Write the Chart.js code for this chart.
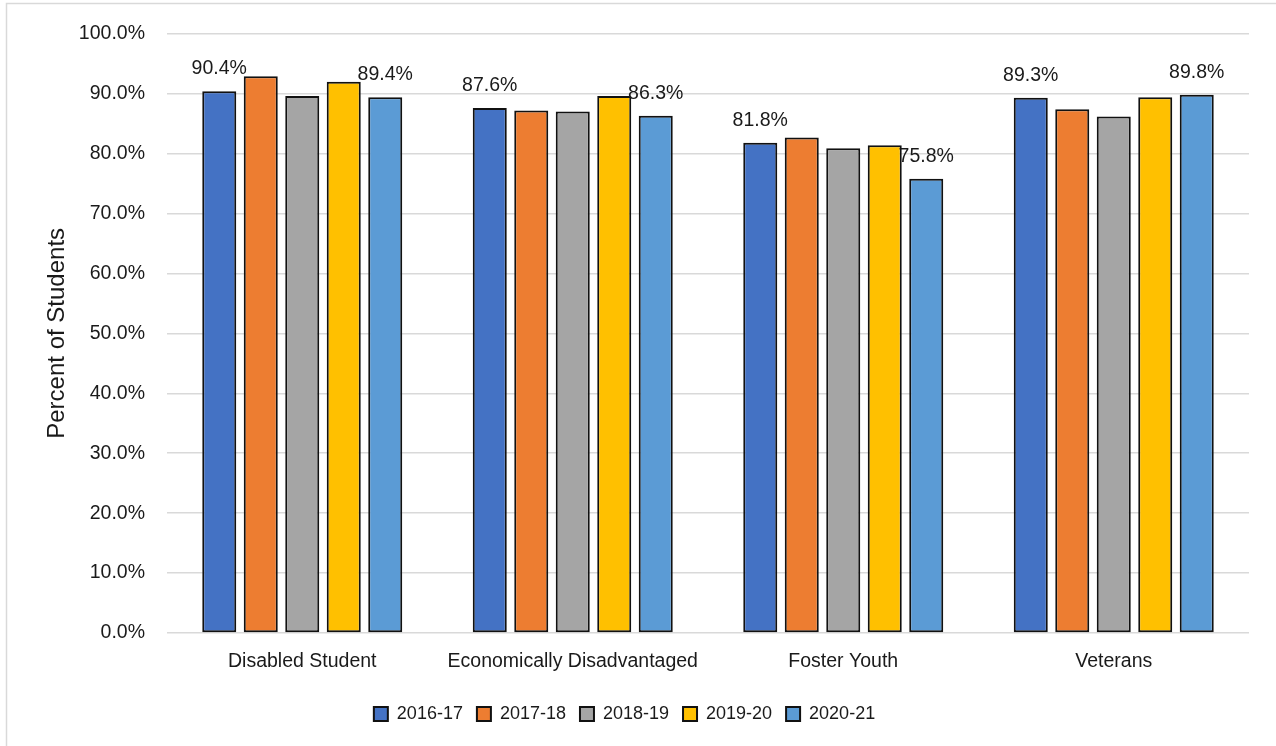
<!DOCTYPE html>
<html>
<head>
<meta charset="utf-8">
<title>Percent of Students by Group</title>
<script src="https://cdn.jsdelivr.net/npm/chart.js@4"></script>
<style>
  html, body { margin: 0; padding: 0; background: #fff; }
  #wrap { position: relative; width: 1276px; height: 746px; }
</style>
</head>
<body>
<div id="wrap"><canvas id="groupChart"></canvas></div>
<script>
const categories = ["Disabled Student", "Economically Disadvantaged", "Foster Youth", "Veterans"];
const years = ["2016-17", "2017-18", "2018-19", "2019-20", "2020-21"];

const y2016 = [90.4, 87.6, 81.8, 89.3];
const y2017 = [92.9, 87.2, 82.7, 87.4];
const y2018 = [89.6, 87.0, 80.9, 86.2];
const y2019 = [92.0, 89.6, 81.4, 89.4];
const y2020 = [89.4, 86.3, 75.8, 89.8];

const yTicks = [0, 10, 20, 30, 40, 50, 60, 70, 80, 90, 100];

const colors = ["#4472C4", "#ED7D31", "#A5A5A5", "#FFC000", "#5B9BD5"];
const seriesValues = [y2016, y2017, y2018, y2019, y2020];
// only the first and last year get value labels
const labelled = [true, false, false, false, true];

Chart.defaults.font.family = "'Liberation Sans', Arial, sans-serif";
Chart.defaults.color = "#1a1a1a";

// light frame around the whole chart
const framePlugin = {
    id: "frame",
    beforeDraw(chart) {
        const ctx = chart.ctx;
        ctx.save();
        ctx.strokeStyle = "#d9d9d9";
        ctx.lineWidth = 1.5;
        ctx.strokeRect(6.5, 3.5, chart.width, chart.height);
        ctx.restore();
    }
};

// value labels above the bars
const valueLabels = {
    id: "valueLabels",
    afterDatasetsDraw(chart) {
        const ctx = chart.ctx;
        ctx.save();
        ctx.font = "19.5px 'Liberation Sans', Arial, sans-serif";
        ctx.fillStyle = "#1a1a1a";
        ctx.textAlign = "center";
        ctx.textBaseline = "alphabetic";
        chart.data.datasets.forEach(function (ds, di) {
            if (!ds.showValues) return;
            chart.getDatasetMeta(di).data.forEach(function (bar, i) {
                ctx.fillText(ds.data[i].toFixed(1) + "%", bar.x, bar.y - 17);
            });
        });
        ctx.restore();
    }
};

const ctx = document.getElementById("groupChart");

new Chart(ctx, {
    type: "bar",
    data: {
        labels: categories,
        datasets: years.map(function (yr, k) {
            return {
                label: yr,
                data: seriesValues[k],
                backgroundColor: colors[k],
                borderColor: "#111",
                borderWidth: 2,
                borderSkipped: false,
                categoryPercentage: 0.767,
                barPercentage: 0.82,
                showValues: labelled[k]
            };
        })
    },
    options: {
        responsive: true,
        maintainAspectRatio: false,
        animation: false,
        layout: {
            padding: { left: 0, right: 27, top: 33, bottom: 13 }
        },
        scales: {
            x: {
                grid: { display: false },
                border: { display: false },
                ticks: { font: { size: 19.5 }, padding: 9, color: "#1a1a1a" },
                afterFit: function (scale) { scale.height = 58; }
            },
            y: {
                min: 0,
                max: 100,
                afterBuildTicks: function (scale) {
                    scale.ticks = yTicks.map(function (v) { return { value: v }; });
                },
                ticks: {
                    font: { size: 19.5 },
                    padding: 22,
                    color: "#1a1a1a",
                    callback: function (v) { return v.toFixed(1) + "%"; }
                },
                grid: { color: "#d9d9d9", lineWidth: 1.5, drawTicks: false },
                border: { display: false },
                title: {
                    display: true,
                    text: "Percent of Students",
                    font: { size: 24 },
                    color: "#1a1a1a",
                    padding: { top: 43, bottom: 0 }
                },
                afterFit: function (scale) { scale.width = 167; }
            }
        },
        plugins: {
            legend: {
                position: "bottom",
                labels: {
                    boxWidth: 14,
                    boxHeight: 14,
                    padding: 14,
                    font: { size: 18 },
                    color: "#1a1a1a"
                }
            },
            tooltip: { enabled: false }
        }
    },
    plugins: [framePlugin, valueLabels]
});
</script>
</body>
</html>
